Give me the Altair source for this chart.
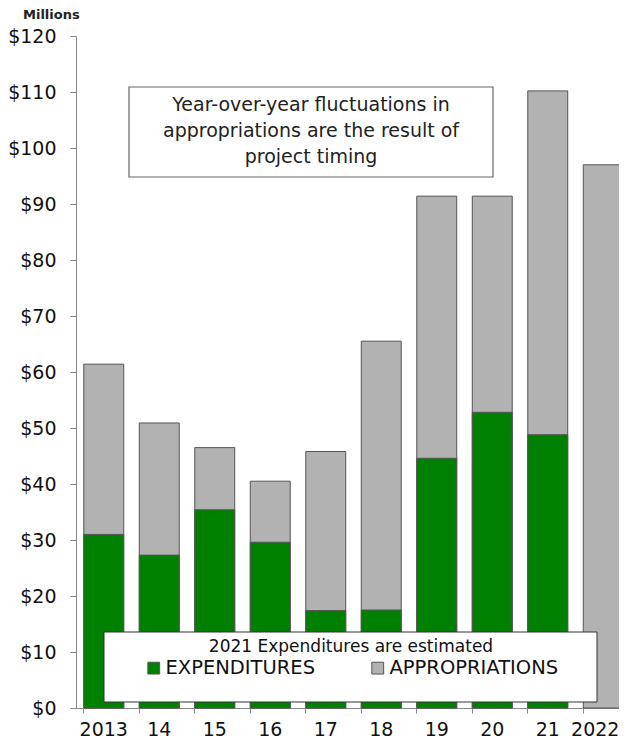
import altair as alt
import pandas as pd

years = ["2013", "14", "15", "16", "17", "18", "19", "20", "21", "2022"]
appropriations = [61.4, 50.9, 46.5, 40.5, 45.8, 65.5, 91.4, 91.4, 110.2, 97.0]
expenditures = [31.0, 27.3, 35.4, 29.6, 17.4, 17.5, 44.6, 52.8, 48.8, None]

series_names = ["EXPENDITURES", "APPROPRIATIONS"]
series_colors = ["#008000", "#b2b2b2"]

annotation_lines = ["Year-over-year fluctuations in", "appropriations  are the result of", "project timing"]
legend_title = "2021 Expenditures are estimated"

rows = []
for y, a in zip(years, appropriations):
    rows.append({"year": y, "series": "APPROPRIATIONS", "value": a, "ord": 0})
for y, e in zip(years, expenditures):
    if e is not None:
        rows.append({"year": y, "series": "EXPENDITURES", "value": e, "ord": 1})
df = pd.DataFrame(rows)

FONT = "DejaVu Sans"
W = 543
H = 672

x = alt.X("year:N", sort=years, title=None,
          scale=alt.Scale(range=[0, 555], paddingInner=0.28, paddingOuter=0.14),
          axis=alt.Axis(bandPosition=0, labelAngle=0, labelFontSize=19, labelBaseline="alphabetic",
                        labelOffset={"condition": {"test": "datum.value == '2022'", "value": -8}, "value": 0},
                        labelFont=FONT, labelColor="#111", tickSize=5, tickColor="#888",
                        domainColor="#888", labelPadding=22, grid=False))
y = alt.Y("value:Q", stack=None, title=None,
          scale=alt.Scale(domain=[0, 120], nice=False),
          axis=alt.Axis(values=list(range(0, 121, 10)), labelExpr="'$' + datum.value",
                        labelFontSize=19, labelFont=FONT, labelColor="#111", tickSize=6,
                        tickColor="#888", domainColor="#888", labelPadding=14, grid=False))

bars = alt.Chart(df).mark_bar(stroke="#555", strokeWidth=1).encode(
    x=x, y=y,
    color=alt.Color("series:N", scale=alt.Scale(domain=series_names, range=series_colors),
                    legend=alt.Legend(orient="none", legendX=68, legendY=603, direction="horizontal",
                                      title=legend_title, titleFontSize=17, titleFontWeight="normal",
                                      titleFont=FONT, titleColor="#111", titleAnchor="middle",
                                      titleAlign="center", titlePadding=2, titleLimit=600,
                                      labelFontSize=19.5, labelFont=FONT, labelColor="#111",
                                      labelLimit=400, padding=0,
                                      symbolType="square", symbolSize=140, symbolStrokeColor="#555",
                                      symbolStrokeWidth=1, labelOffset=2, columnPadding=52)),
    order=alt.Order("ord:Q"),
)

box1 = alt.Chart().mark_rect(fill="white", stroke="#666", strokeWidth=1.2).encode(
    x=alt.value(53), x2=alt.value(417), y=alt.value(51), y2=alt.value(141))
ann = alt.Chart().mark_text(fontSize=19, font=FONT, color="#222", lineHeight=26, baseline="middle").encode(
    x=alt.value(235), y=alt.value(69), text=alt.value(annotation_lines))
box2 = alt.Chart().mark_rect(fill="white", stroke="#333", strokeWidth=1).encode(
    x=alt.value(28), x2=alt.value(521), y=alt.value(596), y2=alt.value(666))
millions = alt.Chart().mark_text(fontSize=13, font=FONT, fontWeight="bold", color="#222", align="left").encode(
    x=alt.value(-53), y=alt.value(-21), text=alt.value("Millions"))

chart = alt.layer(bars, box1, ann, box2, millions).properties(
    width=W, height=H,
    autosize=alt.AutoSizeParams(type="none"),
    padding={"left": 68, "top": 28, "right": 0, "bottom": 30},
).configure_view(stroke=None)

chart.save("out.html", embed_options={"renderer": "svg", "actions": False})
